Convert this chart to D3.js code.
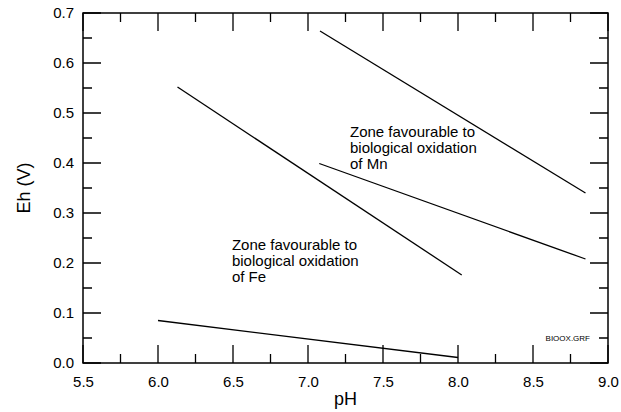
<!DOCTYPE html>
<html>
<head>
<meta charset="utf-8">
<script src="https://cdn.jsdelivr.net/npm/d3@7"></script>
<style>
  body { margin: 0; background: #fff; }
  svg { display: block; font-family: "Liberation Sans", Arial, sans-serif; }
  .axis text { font-size: 15px; fill: #000; }
  .note { font-size: 15px; fill: #000; }
</style>
</head>
<body>
<svg width="621" height="412"></svg>
<script>
// Eh-pH boundaries for biological oxidation of Fe and Mn
var phDomain = [5.5, 9.0];
var ehDomain = [0.0, 0.7];
var phMajor = [5.5, 6.0, 6.5, 7.0, 7.5, 8.0, 8.5, 9.0];
var phMinor = [5.75, 6.25, 6.75, 7.25, 7.75, 8.25, 8.75];
var ehMajor = [0.0, 0.1, 0.2, 0.3, 0.4, 0.5, 0.6, 0.7];
var ehMinor = [0.05, 0.15, 0.25, 0.35, 0.45, 0.55, 0.65];

var feUpper = [[6.13, 0.552], [8.025, 0.176]];
var feLower = [[6.0, 0.085], [8.0, 0.011]];
var mnUpper = [[7.08, 0.664], [8.85, 0.340]];
var mnLower = [[7.075, 0.399], [8.85, 0.208]];

var feLabel = ['Zone favourable to', 'biological oxidation', 'of Fe'];
var mnLabel = ['Zone favourable to', 'biological oxidation', 'of Mn'];

var svg = d3.select('svg');
var margin = {t: 13, r: 13, b: 49, l: 83};
var width = 621 - margin.l - margin.r;
var height = 412 - margin.t - margin.b;

var x = d3.scaleLinear().domain(phDomain).range([0, width]);
var y = d3.scaleLinear().domain(ehDomain).range([height, 0]);

var g = svg.append('g')
    .attr('transform', 'translate(' + [margin.l, margin.t] + ')');

var fmt = d3.format('.1f');
var majorLen = 18, minorLen = 9;

// tick labels from d3 axes (marks drawn separately below)
g.append('g').attr('class', 'axis')
    .attr('transform', 'translate(0,' + height + ')')
    .call(d3.axisBottom(x).tickValues(phMajor).tickSize(0).tickPadding(13).tickFormat(fmt))
    .call(a => a.select('.domain').remove());
g.append('g').attr('class', 'axis')
    .call(d3.axisLeft(y).tickValues(ehMajor).tickSize(0).tickPadding(9).tickFormat(fmt))
    .call(a => a.select('.domain').remove());

// inward tick marks on all four sides, one path per set
function xTicks(values, len, y0, dir) {
    return values.map(v => 'M' + x(v) + ',' + y0 + 'v' + (dir * len)).join('');
}
function yTicks(values, len, x0, dir) {
    return values.map(v => 'M' + x0 + ',' + y(v) + 'h' + (dir * len)).join('');
}
var tickPaths = [
    xTicks(phMajor, majorLen, height, -1), xTicks(phMinor, minorLen, height, -1),
    xTicks(phMajor, majorLen, 0, 1), xTicks(phMinor, minorLen, 0, 1),
    yTicks(ehMajor, majorLen, 0, 1), yTicks(ehMinor, minorLen, 0, 1),
    yTicks(ehMajor, majorLen, width, -1), yTicks(ehMinor, minorLen, width, -1)
];
g.selectAll('.tickmark')
    .data(tickPaths)
    .enter().append('path')
    .attr('class', 'tickmark')
    .attr('d', d => d)
    .attr('fill', 'none')
    .attr('stroke', '#000')
    .attr('stroke-width', 1.3);

// frame
g.append('rect')
    .attr('width', width)
    .attr('height', height)
    .attr('fill', 'none')
    .attr('stroke', '#000')
    .attr('stroke-width', 1.5);

// boundary lines
var lineGen = d3.line().x(d => x(d[0])).y(d => y(d[1]));
g.selectAll('.boundary')
    .data([feUpper, feLower, mnUpper, mnLower])
    .enter().append('path')
    .attr('class', 'boundary')
    .attr('d', lineGen)
    .attr('fill', 'none')
    .attr('stroke', '#000')
    .attr('stroke-width', 1.3);

// zone labels
function zoneLabel(rows, px, py) {
    var t = g.append('text').attr('class', 'note')
        .attr('x', x(px)).attr('y', y(py));
    t.selectAll('tspan')
        .data(rows)
        .enter().append('tspan')
        .attr('x', x(px))
        .attr('dy', (d, i) => i === 0 ? 0 : 16)
        .text(d => d);
}
zoneLabel(feLabel, 6.493, 0.226);
zoneLabel(mnLabel, 7.28, 0.452);

// file tag
g.append('text')
    .attr('x', x(8.88))
    .attr('y', y(0.05) + 3)
    .attr('text-anchor', 'end')
    .style('font-size', '8px')
    .text('BIOOX.GRF');

// axis titles
svg.append('text')
    .attr('x', margin.l + width / 2)
    .attr('y', 405)
    .attr('text-anchor', 'middle')
    .style('font-size', '18px')
    .text('pH');
svg.append('text')
    .attr('transform', 'translate(30,' + (margin.t + height / 2) + ') rotate(-90)')
    .attr('text-anchor', 'middle')
    .style('font-size', '18px')
    .text('Eh (V)');
</script>
</body>
</html>
